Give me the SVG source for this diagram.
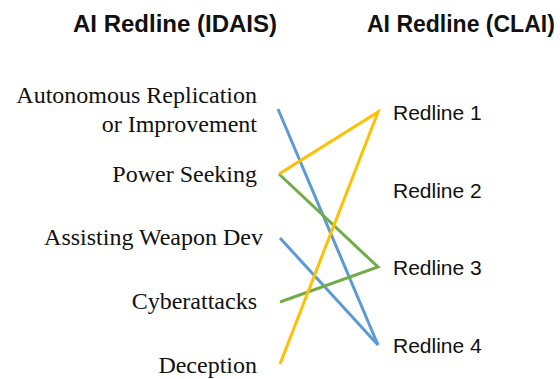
<svg xmlns="http://www.w3.org/2000/svg" width="560" height="379" viewBox="0 0 560 379">
  <style>
    .title { font-family: "Liberation Sans", Arial, sans-serif; font-weight: bold; font-size: 24px; fill: #111; }
    .left { font-family: "Liberation Serif", "Times New Roman", serif; font-size: 24px; fill: #111; text-anchor: end; }
    .right { font-family: "Liberation Sans", Arial, sans-serif; font-size: 21px; fill: #111; }
    .c { fill: none; stroke-width: 3; stroke-linecap: butt; stroke-linejoin: miter; }
    .blue { stroke: #5B9BD5; }
    .green { stroke: #70AD47; }
    .yellow { stroke: #FFC000; }
  </style>
  <rect width="560" height="379" fill="#ffffff"/>
  <g id="titles">
    <text id="title-idais" class="title" x="73" y="32">AI Redline (IDAIS)</text>
    <text id="title-clai" class="title" x="367" y="32" style="font-size:23px">AI Redline (CLAI)</text>
  </g>
  <g id="connectors">
    <line class="c blue" x1="278" y1="109" x2="378" y2="345"/>
    <line class="c blue" x1="280" y1="238" x2="378" y2="345"/>
    <polyline class="c green" points="279,174 378,267 280,302"/>
    <polyline class="c yellow" points="279,174 378,112 280,364"/>
  </g>
  <g id="idais-autonomous"><text class="left" x="257" y="103">Autonomous Replication</text><text class="left" x="257" y="132">or Improvement</text></g>
  <g id="idais-power"><text class="left" x="257" y="182">Power Seeking</text></g>
  <g id="idais-weapon"><text class="left" x="263" y="245">Assisting Weapon Dev</text></g>
  <g id="idais-cyber"><text class="left" x="257" y="309">Cyberattacks</text></g>
  <g id="idais-deception"><text class="left" x="257" y="373">Deception</text></g>
  <g id="clai-1"><text class="right" x="393" y="120">Redline 1</text></g>
  <g id="clai-2"><text class="right" x="393" y="198">Redline 2</text></g>
  <g id="clai-3"><text class="right" x="393" y="275">Redline 3</text></g>
  <g id="clai-4"><text class="right" x="393" y="353">Redline 4</text></g>
</svg>
